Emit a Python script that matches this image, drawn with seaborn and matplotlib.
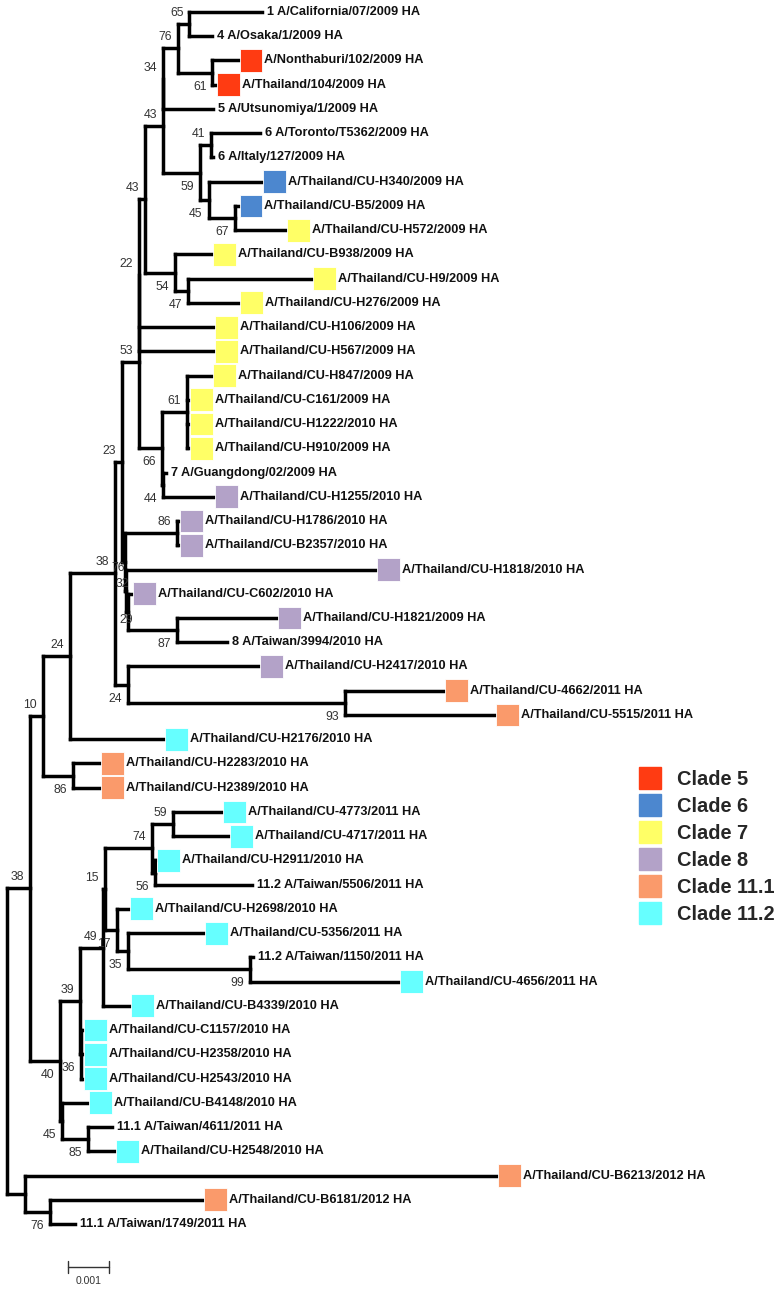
import pandas as pd
import matplotlib.pyplot as plt
import seaborn as sns
from matplotlib.collections import LineCollection
from matplotlib.lines import Line2D

# internal nodes (parent listed before child), branch lengths in units of 0.001 subst/site
node_id = ['n38b', 'nB', 'n76c', 'n10', 'n40', 'n24a', 'n86b', 'n38', 'n23', 'n24',
           'n93', 'n53', 'n76', 'n86', 'n32', 'n29', 'n87', 'n22', 'n66', 'n61',
           'n44', 'n43b', 'n43a', 'n54', 'n47', 'n34', 'n59', 'n76a', 'n65', 'nNT',
           'n41', 'n45', 'n67', 'n39', 'n45b', 'n85', 'n36', 'n49', 'n15', 'n74',
           'n17', 'n59b', 'n56', 'n35', 'n99']
node_parent = ['root', 'root', 'nB', 'n38b', 'n38b', 'n10', 'n10', 'n24a', 'n38', 'n38',
               'n24', 'n23', 'n23', 'n76', 'n76', 'n32', 'n29', 'n53', 'n53', 'n66',
               'n66', 'n22', 'n43b', 'n43b', 'n54', 'n43a', 'n43a', 'n34', 'n76a', 'n76a',
               'n59', 'n59', 'n45', 'n40', 'n40', 'n45b', 'n39', 'n39', 'n49', 'n15',
               'n15', 'n74', 'n74', 'n17', 'n35']
node_len = [0.56, 0.44, 0.61, 0.32, 0.73, 0.66, 0.73, 1.10, 0.17, 0.32,
            5.29, 0.41, 0.07, 1.27, 0.02, 0.05, 1.20, 0.01, 0.56, 0.61,
            0.02, 0.13, 0.44, 0.73, 0.32, 0.01, 0.90, 0.35, 0.29, 0.85,
            0.27, 0.22, 0.63, 0.49, 0.05, 0.63, 0.02, 0.56, 0.05, 1.15,
            0.29, 0.51, 0.07, 0.27, 2.98]
node_boot = [38, None, 76, 10, 40, 24, 86, 38, 23, 24,
             93, 53, 76, 86, 32, 29, 87, 22, 66, 61,
             44, 43, 43, 54, 47, 34, 59, 76, 65, 61,
             41, 45, 67, 39, 45, 85, 36, 49, 15, 74,
             17, 59, 56, 35, 99]

tip_name = ['1 A/California/07/2009 HA', '4 A/Osaka/1/2009 HA', 'A/Nonthaburi/102/2009 HA',
            'A/Thailand/104/2009 HA', '5 A/Utsunomiya/1/2009 HA', '6 A/Toronto/T5362/2009 HA',
            '6 A/Italy/127/2009 HA', 'A/Thailand/CU-H340/2009 HA', 'A/Thailand/CU-B5/2009 HA',
            'A/Thailand/CU-H572/2009 HA', 'A/Thailand/CU-B938/2009 HA', 'A/Thailand/CU-H9/2009 HA',
            'A/Thailand/CU-H276/2009 HA', 'A/Thailand/CU-H106/2009 HA', 'A/Thailand/CU-H567/2009 HA',
            'A/Thailand/CU-H847/2009 HA', 'A/Thailand/CU-C161/2009 HA', 'A/Thailand/CU-H1222/2010 HA',
            'A/Thailand/CU-H910/2009 HA', '7 A/Guangdong/02/2009 HA', 'A/Thailand/CU-H1255/2010 HA',
            'A/Thailand/CU-H1786/2010 HA', 'A/Thailand/CU-B2357/2010 HA', 'A/Thailand/CU-H1818/2010 HA',
            'A/Thailand/CU-C602/2010 HA', 'A/Thailand/CU-H1821/2009 HA', '8 A/Taiwan/3994/2010 HA',
            'A/Thailand/CU-H2417/2010 HA', 'A/Thailand/CU-4662/2011 HA', 'A/Thailand/CU-5515/2011 HA',
            'A/Thailand/CU-H2176/2010 HA', 'A/Thailand/CU-H2283/2010 HA', 'A/Thailand/CU-H2389/2010 HA',
            'A/Thailand/CU-4773/2011 HA', 'A/Thailand/CU-4717/2011 HA', 'A/Thailand/CU-H2911/2010 HA',
            '11.2 A/Taiwan/5506/2011 HA', 'A/Thailand/CU-H2698/2010 HA', 'A/Thailand/CU-5356/2011 HA',
            '11.2 A/Taiwan/1150/2011 HA', 'A/Thailand/CU-4656/2011 HA', 'A/Thailand/CU-B4339/2010 HA',
            'A/Thailand/CU-C1157/2010 HA', 'A/Thailand/CU-H2358/2010 HA', 'A/Thailand/CU-H2543/2010 HA',
            'A/Thailand/CU-B4148/2010 HA', '11.1 A/Taiwan/4611/2011 HA', 'A/Thailand/CU-H2548/2010 HA',
            'A/Thailand/CU-B6213/2012 HA', 'A/Thailand/CU-B6181/2012 HA', '11.1 A/Taiwan/1749/2011 HA']
tip_parent = ['n65', 'n65', 'nNT', 'nNT', 'n34', 'n41', 'n41', 'n45', 'n67', 'n67',
              'n54', 'n47', 'n47', 'n22', 'n22', 'n61', 'n61', 'n61', 'n61', 'n44',
              'n44', 'n86', 'n86', 'n32', 'n29', 'n87', 'n87', 'n24', 'n93', 'n93',
              'n24a', 'n86b', 'n86b', 'n59b', 'n59b', 'n56', 'n56', 'n17', 'n35', 'n99',
              'n99', 'n49', 'n36', 'n36', 'n36', 'n45b', 'n85', 'n85', 'nB', 'n76c', 'n76c']
tip_len = [1.78, 0.56, 0.66, 0.12, 1.21, 1.20, 0.05, 1.32, 0.12, 1.27,
           0.93, 3.05, 1.27, 1.84, 1.84, 0.63, 0.07, 0.07, 0.07, 0.07,
           1.27, 0.07, 0.07, 6.12, 0.12, 2.46, 1.22, 3.22, 2.44, 3.68,
           2.32, 0.68, 0.68, 1.22, 1.39, 0.05, 2.37, 0.32, 1.88, 0.07,
           3.66, 0.68, 0.07, 0.07, 0.07, 0.66, 0.59, 0.68, 11.54, 3.76, 0.61]
tip_clade = ['', '', 'Clade 5', 'Clade 5', '', '', '', 'Clade 6', 'Clade 6', 'Clade 7',
             'Clade 7', 'Clade 7', 'Clade 7', 'Clade 7', 'Clade 7', 'Clade 7', 'Clade 7', 'Clade 7',
             'Clade 7', '', 'Clade 8', 'Clade 8', 'Clade 8', 'Clade 8', 'Clade 8', 'Clade 8', '',
             'Clade 8', 'Clade 11.1', 'Clade 11.1', 'Clade 11.2', 'Clade 11.1', 'Clade 11.1',
             'Clade 11.2', 'Clade 11.2', 'Clade 11.2', '', 'Clade 11.2', 'Clade 11.2', '',
             'Clade 11.2', 'Clade 11.2', 'Clade 11.2', 'Clade 11.2', 'Clade 11.2', 'Clade 11.2', '',
             'Clade 11.2', 'Clade 11.1', 'Clade 11.1', '']

clades = ['Clade 5', 'Clade 6', 'Clade 7', 'Clade 8', 'Clade 11.1', 'Clade 11.2']
clade_colors = ['#FF3B12', '#4C87CF', '#FFFF66', '#B3A2C8', '#FA9A6B', '#66FFFF']

# bootstrap label drawn below the node (else above); a few crowded ones get their own offset
label_below = {'n76c', 'n40', 'n86b', 'n24', 'n93', 'n29', 'n87', 'n66', 'n44',
               'n54', 'n47', 'n59', 'nNT', 'n45', 'n67', 'n45b', 'n85', 'n36', 'n17',
               'n56', 'n35', 'n99'}
label_shift = {'n76': (6, 0), 'n32': (-7, 3), 'n29': (8, 5)}  # (dy px, dx px)

# ---- layout ----
xpos = {'root': 0.0}
children = {'root': []}
for n, p, l in zip(node_id, node_parent, node_len):
    xpos[n] = xpos[p] + l
    children.setdefault(p, []).append(n)
    children.setdefault(n, [])
ypos = {}
for i, (t, p, l) in enumerate(zip(tip_name, tip_parent, tip_len)):
    xpos[t] = xpos[p] + l
    ypos[t] = i
    children[p].append(t)


def get_y(n):
    if n in ypos:
        return ypos[n]
    ys = [get_y(c) for c in children[n]]
    ypos[n] = (min(ys) + max(ys)) / 2
    return ypos[n]


get_y('root')

segs = []
for n in ['root'] + node_id:
    cy = [ypos[c] for c in children[n]]
    segs.append([(xpos[n], min(cy)), (xpos[n], max(cy))])
    for c in children[n]:
        segs.append([(xpos[n], ypos[c]), (xpos[c], ypos[c])])

# pixel scales: 41 px per 0.001, 24.24 px per row
PX = 1 / 41
PY = 1 / 24.24

sns.set_theme(style='white')
plt.rcParams['font.family'] = ['Liberation Sans', 'DejaVu Sans']

fig = plt.figure(figsize=(7.83, 12.90), dpi=100)
ax = fig.add_axes([0, 0, 1, 1])

ax.add_collection(LineCollection(segs, colors='black', linewidths=2.5, capstyle='projecting'))

df = pd.DataFrame({'x': [xpos[t] for t in tip_name], 'y': [ypos[t] for t in tip_name],
                   'clade': tip_clade, 'name': tip_name})
sq = df[df['clade'] != ''].copy()
sq['x'] = sq['x'] + 11.5 * PX
sns.scatterplot(data=sq, x='x', y='y', hue='clade', hue_order=clades, palette=clade_colors,
                marker='s', s=270, edgecolor='white', linewidth=0.6, legend=False, ax=ax, zorder=3)

for _, r in df.iterrows():
    off = 25 * PX if r['clade'] else 5 * PX
    ax.text(r['x'] + off, r['y'], r['name'], ha='left', va='center', fontsize=9.2,
            fontweight='bold', color='#111111')

for n, b in zip(node_id, node_boot):
    if b is None:
        continue
    if n in label_shift:
        dy, dx = label_shift[n]
    else:
        dy, dx = (14 if n in label_below else -11), -6
    ax.text(xpos[n] + dx * PX, ypos[n] + dy * PY, str(b), ha='right', va='center',
            fontsize=8.8, color='#333333')

# scale bar
x0 = 61 * PX
yb = 1255 * PY
ax.plot([x0, x0 + 1], [yb, yb], color='#333333', lw=1)
ax.plot([x0, x0], [yb - 6 * PY, yb + 6 * PY], color='#333333', lw=1)
ax.plot([x0 + 1, x0 + 1], [yb - 6 * PY, yb + 6 * PY], color='#333333', lw=1)
ax.text(x0 + 0.5, yb + 14 * PY, '0.001', ha='center', va='center', fontsize=7.5, color='#333333')

handles = [Line2D([], [], ls='', marker='s', markersize=16.5, markerfacecolor=c,
                  markeredgecolor=c) for c in clade_colors]
ax.legend(handles, clades, loc='upper left', bbox_to_anchor=(620 / 783, 1 - 752 / 1290),
          bbox_transform=fig.transFigure, frameon=False, handlelength=1.15,
          handletextpad=0.8, labelspacing=0.4, prop={'weight': 'bold', 'size': 14.4})

ax.set_xlim(-7 * PX, 776 * PX)
ax.set_ylim((1290 - 12) * PY, -12 * PY)
ax.axis('off')

fig.savefig('out.png', dpi=100)
